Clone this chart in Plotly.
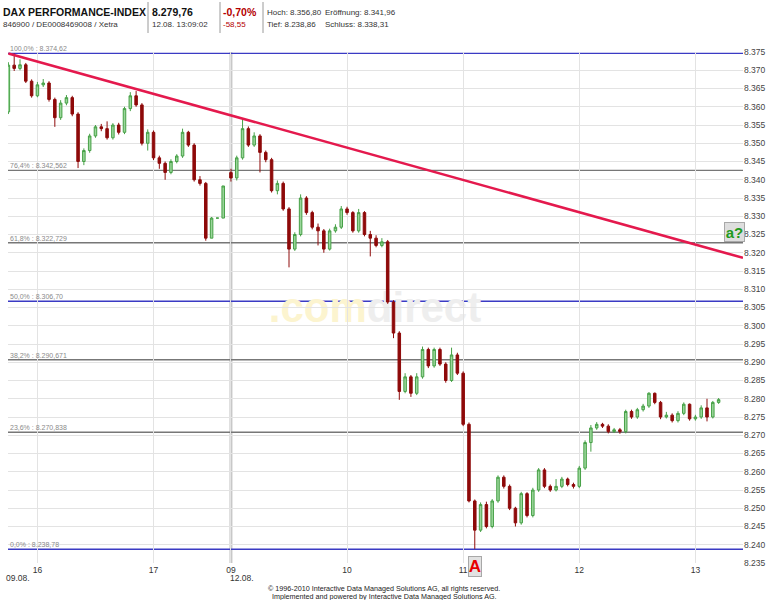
import plotly.graph_objects as go

# ---------------- data ----------------
# Day 1 (09.08.), 3-minute candles from 15:45
day1_minutes = list(range(15 * 60 + 45, 17 * 60 + 37, 3))
day1_open = [8358.6, 8371.4, 8370.5, 8371.5, 8367, 8363, 8366, 8366.5, 8362, 8357,
             8361, 8362.5, 8358, 8345, 8348, 8352, 8354.5, 8354, 8351.5, 8355,
             8353, 8359.5, 8363, 8360.5, 8350, 8353, 8346, 8344.5, 8342, 8345,
             8346.5, 8353, 8349.5, 8340, 8339, 8324, 8329.5, 8329.5]
day1_high = [8372.2, 8374.62, 8373, 8372, 8367.5, 8366.8, 8367.6, 8367, 8362.5, 8361.8,
             8363.2, 8363, 8358.5, 8348.6, 8352.6, 8355, 8355.3, 8356, 8355.5, 8355.6,
             8360, 8364, 8364.3, 8361, 8353.8, 8353.5, 8346.6, 8345, 8345.6, 8347,
             8354, 8353.4, 8350, 8341, 8339.4, 8329.8, 8329.5, 8338.3]
day1_low = [8358.0, 8369.8, 8370, 8366.5, 8362.5, 8362.6, 8365.4, 8361.4, 8354.5, 8356.4,
            8360.4, 8357.4, 8343.2, 8344, 8347.4, 8351.5, 8353.3, 8351, 8351, 8352.4,
            8352.5, 8358.8, 8360, 8349.4, 8348, 8345.4, 8343, 8340, 8341.5, 8344.5,
            8346, 8349, 8339.5, 8338.4, 8323.3, 8324, 8329.5, 8329.5]
day1_close = [8371.4, 8370.5, 8371.5, 8367, 8363, 8366, 8366.5, 8362, 8357, 8361,
              8362.5, 8358, 8345, 8348, 8352, 8354.5, 8354, 8351.5, 8355, 8353,
              8359.5, 8363, 8360.5, 8350, 8353, 8346, 8344.5, 8342, 8345, 8346.5,
              8353, 8349.5, 8340, 8339, 8324, 8329.5, 8329.5, 8338.3]

# Day 2 (12.08.), 3-minute candles from 09:00
day2_minutes = list(range(9 * 60, 13 * 60 + 13, 3))
day2_open = [8341.96, 8340.5, 8346, 8354, 8349.5, 8352, 8347.5, 8345.5, 8337, 8339,
             8332, 8321, 8325, 8335, 8331, 8327, 8326, 8321, 8326, 8327,
             8332, 8331, 8326, 8331, 8325, 8324, 8322, 8323, 8306.5, 8298,
             8282, 8286, 8281.5, 8286, 8293.5, 8289, 8293.5, 8289.5, 8285, 8292,
             8287, 8273, 8252, 8244, 8251, 8245, 8252, 8258.5, 8256, 8250,
             8246, 8254, 8248, 8255, 8260.5, 8256, 8255, 8256, 8258, 8256.5,
             8256, 8261, 8268, 8272, 8273, 8272.5, 8271, 8271.5, 8271, 8276.5,
             8275, 8277, 8278, 8281.5, 8279, 8275, 8275.5, 8274, 8276, 8278.5,
             8274.5, 8275, 8277.5, 8275, 8279]
day2_high = [8343, 8346.6, 8356.8, 8354.6, 8353, 8352.5, 8348, 8346, 8339.8, 8339.5,
             8332.5, 8325.6, 8336, 8335.5, 8331.5, 8328, 8326.5, 8326.6, 8327.8, 8332.8,
             8332.6, 8331.4, 8332, 8331.4, 8326, 8324.8, 8324, 8323.5, 8307, 8298.5,
             8287, 8286.5, 8287, 8294.3, 8294, 8294, 8294, 8290, 8294, 8292.6,
             8287.5, 8273.5, 8252.4, 8251.6, 8251.8, 8252.5, 8259, 8259, 8256.5, 8250.4,
             8254.5, 8254.4, 8255.6, 8261, 8261, 8256.5, 8258, 8258.6, 8258.4, 8257,
             8261.6, 8268.6, 8272.8, 8273.6, 8273.4, 8273, 8272, 8272, 8277, 8277,
             8277.5, 8278.6, 8281.8, 8281.7, 8279.4, 8276.4, 8276, 8276.6, 8279, 8278.7,
             8275.6, 8278.2, 8280, 8279.4, 8280.2]
day2_low = [8339.5, 8339.8, 8345.5, 8349, 8349, 8342, 8344.8, 8336.5, 8336, 8331.5,
            8316, 8320.5, 8324.5, 8330.4, 8326.4, 8322, 8320, 8320.6, 8325.5, 8326.5,
            8330.4, 8325.5, 8325.5, 8324.5, 8319, 8321.5, 8321.5, 8306, 8296.6, 8279.7,
            8281.5, 8280.5, 8281, 8285.5, 8288.4, 8288.5, 8289, 8284.4, 8284.6, 8286.5,
            8272.5, 8251.6, 8238.86, 8243.5, 8244.5, 8244.5, 8251.5, 8255.4, 8249.5, 8245,
            8245.5, 8247.5, 8247.5, 8254.5, 8255.5, 8254.5, 8254.6, 8255.5, 8256, 8255.4,
            8255.5, 8260.5, 8265.5, 8271.5, 8272, 8270.5, 8270.6, 8270.4, 8270.5, 8274.5,
            8274.5, 8276.5, 8277.5, 8278.5, 8274.4, 8274.6, 8273.5, 8273.5, 8275.5, 8274,
            8274, 8274.5, 8273.8, 8274.6, 8278.6]
day2_close = [8340.5, 8346, 8354, 8349.5, 8352, 8347.5, 8345.5, 8337, 8339, 8332,
              8321, 8325, 8335, 8331, 8327, 8326, 8321, 8326, 8327, 8332,
              8331, 8326, 8331, 8325, 8324, 8322, 8323, 8306.5, 8298, 8282,
              8286, 8281.5, 8286, 8293.5, 8289, 8293.5, 8289.5, 8285, 8292, 8287,
              8273, 8252, 8244, 8251, 8245, 8252, 8258.5, 8256, 8250, 8246,
              8254, 8248, 8255, 8260.5, 8256, 8255, 8256, 8258, 8256.5, 8256,
              8261, 8268, 8272, 8273, 8272.5, 8271, 8271.5, 8271, 8276.5, 8275,
              8277, 8278, 8281.5, 8279, 8275, 8275.5, 8274, 8276, 8278.5, 8274.5,
              8275, 8277.5, 8275, 8279, 8279.76]

# Fibonacci retracement levels
fib_pct = ["100,0%", "76,4%", "61,8%", "50,0%", "38,2%", "23,6%", "0,0%"]
fib_levels = [8374.62, 8342.562, 8322.729, 8306.70, 8290.671, 8270.838, 8238.78]
fib_text = ["8.374,62", "8.342,562", "8.322,729", "8.306,70", "8.290,671", "8.270,838", "8.238,78"]
fib_blue = [True, False, False, True, False, False, True]

# Trend line end points (session-minute position, price)
trend_x = [0, 379.6]
trend_y = [8374.62, 8318.6]

# hour ticks
tick_labels = ["16", "17", "09", "10", "11", "12", "13"]
tick_minutes_day1 = [16 * 60, 17 * 60]
tick_minutes_day2 = [9 * 60, 10 * 60, 11 * 60, 12 * 60, 13 * 60]

# ---------------- compressed intraday time axis ----------------
DAY1_START = 15 * 60 + 45
DAY2_OFFSET = 115  # axis position of 09:00 on day 2


def pos1(m):
    return m - DAY1_START


def pos2(m):
    return DAY2_OFFSET + (m - 9 * 60)


x_vals = [pos1(m) for m in day1_minutes] + [pos2(m) for m in day2_minutes]
o = day1_open + day2_open
h = day1_high + day2_high
l = day1_low + day2_low
c = day1_close + day2_close
tick_pos = [pos1(m) for m in tick_minutes_day1] + [pos2(m) for m in tick_minutes_day2]

FONT = "Arial, Liberation Sans, sans-serif"

fig = go.Figure()
fig.add_trace(go.Candlestick(
    x=x_vals, open=o, high=h, low=l, close=c,
    increasing=dict(line=dict(color="#46a046", width=1), fillcolor="#9bd69b"),
    decreasing=dict(line=dict(color="#8e0a0a", width=1), fillcolor="#8e0a0a"),
    showlegend=False, hoverinfo="skip", whiskerwidth=0,
))
fig.add_trace(go.Scatter(
    x=trend_x, y=trend_y, mode="lines",
    line=dict(color="#e4194d", width=2.6),
    showlegend=False, hoverinfo="skip",
))

# plot area in pixels: x 8..743, y 52..563
L, R, T, B = 8, 743, 52, 563


def px(x):
    return (x - L) / (R - L)


def py(y):
    return (B - y) / (B - T)


shapes = []
annotations = []

# day boundary
shapes.append(dict(type="line", xref="x", yref="paper", x0=DAY2_OFFSET, x1=DAY2_OFFSET,
                   y0=0, y1=1, line=dict(color="#c8c8c8", width=3), layer="between"))

# fib lines + labels
for pct, lev, txt, blue in zip(fib_pct, fib_levels, fib_text, fib_blue):
    shapes.append(dict(type="line", xref="paper", yref="y", x0=0, x1=1, y0=lev, y1=lev,
                       line=dict(color="#3b3bc4" if blue else "#777777", width=1.4),
                       layer="between"))
    annotations.append(dict(xref="paper", yref="y", x=0.002, y=lev, xanchor="left",
                            yanchor="bottom", text=f"{pct} : {txt}", showarrow=False,
                            font=dict(size=7, color="#8a8a8a", family=FONT), borderpad=0))

# watermark
shapes.append(dict(type="rect", xref="paper", yref="paper",
                   x0=px(255), x1=px(495), y0=py(326), y1=py(280),
                   line=dict(width=0), fillcolor="rgba(0,0,0,0)", layer="below",
                   label=dict(text="<b><span style='color:#fcf4cf'>.com</span>"
                                   "<span style='color:#eeeeee'>direct</span></b>",
                              font=dict(size=42, family=FONT, color="#eeeeee"),
                              textposition="middle center")))


def note(text, x, y, size, color, family=FONT, xanchor="center", **kw):
    annotations.append(dict(xref="paper", yref="paper", x=px(x), y=py(y), text=text,
                            xanchor=xanchor, yanchor="middle", showarrow=False,
                            borderpad=kw.pop("borderpad", 0),
                            font=dict(size=size, color=color, family=family), **kw))


# date labels under hour ticks
note("09.08.", 17.5, 577.5, 8.5, "#333")
note("12.08.", 241.5, 577.5, 8.5, "#333")

# signal boxes
note("<b>a?</b>", 734, 232, 15, "#1f9a1f", bgcolor="#dedede", bordercolor="#a8a8a8",
     borderwidth=1, width=19, height=18)
note("<b>A</b>", 475, 566.5, 17, "#e80000", bgcolor="#e2e2e2", bordercolor="#a8a8a8",
     borderwidth=1, width=12, height=19)

# header
header = [
    ("<b>DAX PERFORMANCE-INDEX</b>", 2, 11.7, 10.5, "#111111"),
    ("846900 / DE0008469008 / Xetra", 2, 24, 8, "#333333"),
    ("<b>8.279,76</b>", 151, 11.7, 10.5, "#111111"),
    ("12.08. 13:09:02", 151, 24, 8, "#333333"),
    ("<b>-0,70%</b>", 222, 11.7, 10.5, "#b40000"),
    ("-58,55", 222, 24, 8, "#b40000"),
    ("Hoch: 8.356,80", 266, 12.5, 8, "#333333"),
    ("Eröffnung: 8.341,96", 324, 12.5, 8, "#333333"),
    ("Tief: 8.238,86", 266, 24, 8, "#333333"),
    ("Schluss: 8.338,31", 324, 24, 8, "#333333"),
]
for txt, x, y, size, col in header:
    note(txt, x, y, size, col, xanchor="left")
for sx in [148, 220, 263]:
    shapes.append(dict(type="line", xref="paper", yref="paper", x0=px(sx), x1=px(sx),
                       y0=py(2), y1=py(33), line=dict(color="#9a9a9a", width=1)))

# footer
FOOT = "Liberation Sans Narrow, Arial Narrow, " + FONT
note("© 1996-2010 Interactive Data Managed Solutions AG, all rights reserved.",
     384, 588.5, 7.2, "#222", family=FOOT)
note("Implemented and powered by Interactive Data Managed Solutions AG.",
     384, 596.3, 7.2, "#222", family=FOOT)

fig.update_layout(
    width=768, height=600,
    margin=dict(l=L, r=768 - R, t=T, b=600 - B, autoexpand=False),
    paper_bgcolor="white", plot_bgcolor="white",
    separators=",.",
    boxgap=0.38,
    font=dict(family=FONT, size=9, color="#333"),
    shapes=shapes, annotations=annotations,
    xaxis=dict(range=[-0.2, 379.6], tickvals=tick_pos, ticktext=tick_labels,
               showgrid=True, gridcolor="#e3e3e3", gridwidth=1, zeroline=False,
               showline=False, ticks="", tickfont=dict(size=8.5, color="#333"),
               rangeslider=dict(visible=False), fixedrange=True, automargin=False),
    yaxis=dict(side="right", range=[8235, 8375], tickvals=list(range(8235, 8376, 5)),
               tickformat=",d", showgrid=True, gridcolor="#e3e3e3", gridwidth=1,
               zeroline=False, showline=False, ticks="",
               tickfont=dict(size=8.5, color="#444"), fixedrange=True, automargin=False),
)

fig.write_html("out.html", config={"displayModeBar": False},
               post_script="document.body.style.margin='0';document.body.style.overflow='hidden';")
